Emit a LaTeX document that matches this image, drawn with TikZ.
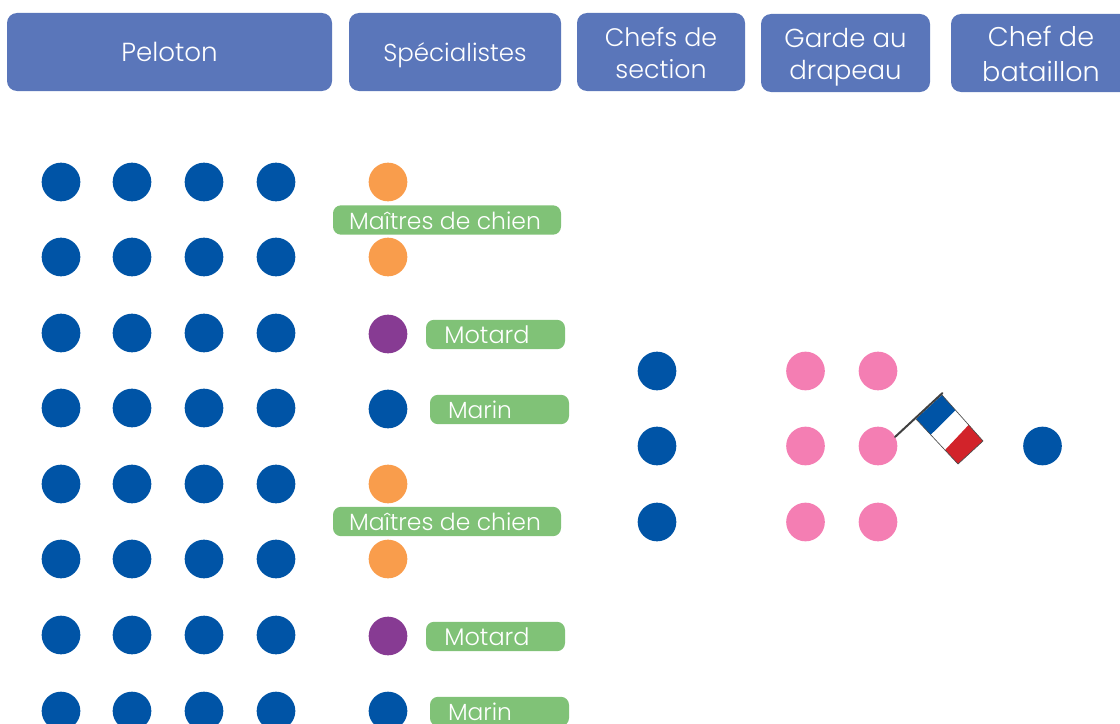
\documentclass[tikz,border=0pt]{standalone}
\usepackage{fontspec}
\usetikzlibrary{calc}
\setmainfont{Poppins Light}
\definecolor{hdr}{HTML}{5A76BA}
\definecolor{grn}{HTML}{80C277}
\definecolor{blu}{HTML}{0054A6}
\definecolor{org}{HTML}{F99D4C}
\definecolor{pur}{HTML}{873B93}
\definecolor{pnk}{HTML}{F47EB3}
\definecolor{frd}{HTML}{D2232A}
\newcommand\fsz[2]{\fontsize{#1}{#2}\selectfont}
% one line of text with no height, so that its baseline is set exactly
\newcommand\oneln[2]{\raisebox{-#1}[0pt][0pt]{#2}}
\newcommand\gln[2]{\raisebox{-7pt}[0pt][0pt]{\makebox[0pt]{\hspace*{#1}#2}}}
\tikzset{
 hbox/.style={fill=hdr,rounded corners=7.5pt,align=center,text=white,inner sep=0pt,anchor=center,minimum height=58.5pt},
 gbox/.style={fill=grn,rounded corners=6pt,text=white,inner sep=0pt,anchor=center,minimum height=22pt},
 gwide/.style={gbox,minimum width=171pt,font=\fsz{17.6}{20}},
 gmot/.style={gbox,minimum width=104.25pt,font=\fsz{18}{20}},
 gmar/.style={gbox,minimum width=104.25pt,font=\fsz{17.5}{20}},
 dot/.style={circle,minimum size=29pt,inner sep=0pt},
 bluedot/.style={dot,fill=blu},
 orgdot/.style={dot,fill=org},
 purdot/.style={dot,fill=pur},
 pnkdot/.style={dot,fill=pnk},
}
\begin{document}
\begin{tikzpicture}[x=0.75pt,y=-0.75pt]
\useasboundingbox (0,0) rectangle (1120,724);
\clip (0,0) rectangle (1120,724);
% headers
\node[hbox,minimum width=243.75pt,font=\fsz{19.6}{24}] (h1) at (169.5,52) {\oneln{7.5pt}{Peloton}};
\node[hbox,minimum width=159pt,font=\fsz{18.4}{24}] (h2) at (455,52) {\oneln{7.5pt}{Spécialistes}};
\node[hbox,minimum width=126pt,font=\fsz{19}{24}] (h3) at (661,52) {\oneln{8.25pt}{Chefs de}\\\oneln{8.25pt}{section}};
\node[hbox,minimum width=126.75pt,font=\fsz{19.5}{24}] (h4) at (845.5,53) {\oneln{8.25pt}{Garde au}\\\oneln{8.25pt}{drapeau}};
\node[hbox,minimum width=135pt,font=\fsz{20.3}{25.5}] (h5) at (1041,53) {\oneln{8.25pt}{Chef de}\\\oneln{8.25pt}{bataillon}};
% peloton
\foreach \c/\x in {a/61,b/132,c/204,d/276}
  \foreach \r/\y in {1/182,2/257,3/333,4/408,5/484,6/559,7/635,8/711}
    \node[bluedot] (p\c\r) at (\x,\y) {};
% specialists
\node[orgdot] (s1) at (388,182) {};
\node[orgdot] (s2) at (388,257) {};
\node[purdot] (s3) at (388,334) {};
\node[bluedot] (s4) at (388,409) {};
\node[orgdot] (s5) at (388,484) {};
\node[orgdot] (s6) at (388,559) {};
\node[purdot] (s7) at (388,636) {};
\node[bluedot] (s8) at (388,711) {};
\node[gwide] (l1) at (447,220) {\gln{-3pt}{Maîtres de chien}};
\node[gmot] (l2) at (495.5,334.5) {\gln{-12.75pt}{Motard}};
\node[gmar] (l3) at (499.5,409.5) {\gln{-29.25pt}{Marin}};
\node[gwide] (l4) at (447,521.5) {\gln{-3pt}{Maîtres de chien}};
\node[gmot] (l5) at (495.5,636.5) {\gln{-12.75pt}{Motard}};
\node[gmar] (l6) at (499.5,711.5) {\gln{-29.25pt}{Marin}};
% section chiefs and colour guard
\foreach \n/\y in {1/371,2/446,3/522} {
  \node[bluedot] (c\n) at (657,\y) {};
  \node[pnkdot] (ga\n) at (805.5,\y) {};
  \node[pnkdot] (gb\n) at (878,\y) {};
}
\node[bluedot] (cb) at (1042.5,446) {};
% flag
\coordinate (poleB) at (895,437);
\coordinate (poleT) at (942.5,393);
\coordinate (A) at (942,395);
\coordinate (B) at (983,441);
\coordinate (C) at (958,464);
\coordinate (D) at (916,419);
\fill[white] (A) -- (B) -- (C) -- (D) -- cycle;
\fill[blu] (A) -- ($(A)!.33!(B)$) -- ($(D)!.35!(C)$) -- (D) -- cycle;
\fill[frd] ($(A)!.65!(B)$) -- (B) -- (C) -- ($(D)!.69!(C)$) -- cycle;
\draw[black!70,line width=0.5pt] (A) -- (B) -- (C) -- (D);
\draw[black!75,line width=1.5pt,line cap=round] (poleB) -- (poleT);
\end{tikzpicture}
\end{document}
